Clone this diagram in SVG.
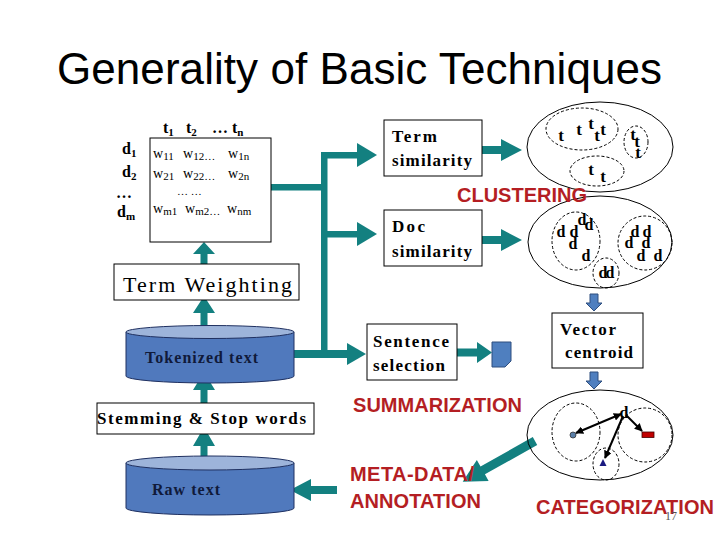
<svg xmlns="http://www.w3.org/2000/svg" width="720" height="540" viewBox="0 0 720 540">
<defs>
<style>
.box{fill:#fff;stroke:#000;stroke-width:1}
.ser{font-family:"Liberation Serif","Times New Roman",serif;fill:#000}
.b{font-weight:bold}
.red{font-family:"Liberation Sans",Arial,sans-serif;font-weight:bold;fill:#b41e23;font-size:20px}
.teal{fill:#138080;stroke:none}
.cylb{fill:#5079bd;stroke:#1f3060;stroke-width:1}
.cylt{fill:#9db4da;stroke:#1f3060;stroke-width:1}
.ell{fill:none;stroke:#000;stroke-width:1}
.dash{fill:none;stroke:#000;stroke-width:1;stroke-dasharray:3,2}
.blu{fill:#4f7fbf;stroke:#2f4f7f;stroke-width:1}
.lt{font-family:"Liberation Serif","Times New Roman",serif;font-weight:bold;font-size:17px;text-anchor:middle;fill:#000}
.ln{stroke:#000;stroke-width:2;fill:none}
</style>
<marker id="ah" viewBox="0 0 10 10" refX="9" refY="5" markerWidth="4" markerHeight="4" orient="auto-start-reverse">
<path d="M0,0 L10,5 L0,10 Z" fill="#000"/>
</marker>
</defs>
<rect width="720" height="540" fill="#fff"/>
<text x="57" y="84" font-family="Liberation Sans, Arial, sans-serif" font-size="44" textLength="605" fill="#000">Generality of Basic Techniques</text>

<g id="connectors">
<path class="teal" d="M200.5,264 V254 H193 L204,242 L215,254 H207.5 V264 Z"/>
<path class="teal" d="M200.5,330 V313 H193 L204,296 L215,313 H207.5 V330 Z"/>
<path class="teal" d="M200.5,407 V390 H193 L204,372 L215,390 H207.5 V407 Z"/>
<path class="teal" d="M200.5,462 V446 H193 L204,427 L215,446 H207.5 V462 Z"/>
<path class="teal" d="M337,486 H311 V479 L290,490 L311,501 V494 H337 Z"/>
<rect class="teal" x="294" y="350" width="54" height="8"/>
<path class="teal" d="M347,343 L366,354 L347,365 Z"/>
<rect class="teal" x="321" y="152" width="6.5" height="206"/>
<rect class="teal" x="271" y="184" width="54" height="6.5"/>
<rect class="teal" x="321" y="152" width="37" height="6.5"/>
<path class="teal" d="M357,143 L377,155 L357,167 Z"/>
<rect class="teal" x="321" y="231" width="37" height="6.5"/>
<path class="teal" d="M357,222 L377,234 L357,246 Z"/>
<path class="teal" d="M482,146 H501 V139 L522,150 L501,161 V154 H482 Z"/>
<path class="teal" d="M482,236 H501 V229 L522,240 L501,251 V244 H482 Z"/>
<path class="teal" d="M457,348.5 H477 V342 L492,352.5 L477,363 V356.5 H457 Z"/>
<g transform="translate(535,441) rotate(150.6)">
<path class="teal" d="M0,-4.5 H60 V-12 L83,0 L60,12 V4.5 H0 Z"/>
</g>
<path class="blu" d="M590,294 H598 V303 H602 L594,311 L586,303 H590 Z"/>
<path class="blu" d="M590,372 H598 V381 H602 L594,389 L586,381 H590 Z"/>
</g>

<g id="matrix">
<rect class="box" x="150" y="138" width="121" height="104"/>
<text class="ser b" font-size="16" y="133"><tspan x="163">t</tspan><tspan font-size="11" dy="3">1</tspan><tspan dy="-3" x="186">t</tspan><tspan font-size="11" dy="3">2</tspan><tspan dy="-3" x="212">… t</tspan><tspan font-size="11" dy="3">n</tspan></text>
<text class="ser b" font-size="16" x="122" y="154">d<tspan font-size="11" dy="3">1</tspan></text>
<text class="ser b" font-size="16" x="122" y="177">d<tspan font-size="11" dy="3">2</tspan></text>
<text class="ser b" font-size="16" x="116" y="198">…</text>
<text class="ser b" font-size="16" x="117" y="217">d<tspan font-size="11" dy="3">m</tspan></text>
<g class="ser" font-size="14">
<text y="158"><tspan x="153">w</tspan><tspan font-size="11" dy="2">11</tspan><tspan dy="-2" x="183">w</tspan><tspan font-size="11" dy="2">12…</tspan><tspan dy="-2" x="228">w</tspan><tspan font-size="11" dy="2">1n</tspan></text>
<text y="178"><tspan x="153">w</tspan><tspan font-size="11" dy="2">21</tspan><tspan dy="-2" x="183">w</tspan><tspan font-size="11" dy="2">22…</tspan><tspan dy="-2" x="228">w</tspan><tspan font-size="11" dy="2">2n</tspan></text>
<text x="177" y="195" font-size="11">… …</text>
<text y="213"><tspan x="153">w</tspan><tspan font-size="11" dy="2">m1</tspan><tspan dy="-2" x="185">w</tspan><tspan font-size="11" dy="2">m2…</tspan><tspan dy="-2" x="227">w</tspan><tspan font-size="11" dy="2">nm</tspan></text>
</g>
</g>

<g id="term-weighting">
<rect class="box" x="114" y="264" width="185" height="36"/>
<text class="ser" font-size="22" x="123" y="292" textLength="169">Term Weighting</text>
</g>

<g id="tokenized">
<path class="cylb" d="M126,332 V376 A84,7 0 0 0 294,376 V332 Z"/>
<ellipse class="cylt" cx="210" cy="332" rx="84" ry="6.5"/>
<text class="ser b" font-size="16" x="145" y="363" textLength="113" style="fill:#101a3a">Tokenized text</text>
</g>

<g id="stemming">
<rect class="box" x="97" y="403" width="217" height="31"/>
<text class="ser b" font-size="17" x="97" y="424" textLength="209">Stemming &amp; Stop words</text>
</g>

<g id="raw-text">
<path class="cylb" d="M126,463 V508 A84,7 0 0 0 294,508 V463 Z"/>
<ellipse class="cylt" cx="210" cy="463" rx="84" ry="7"/>
<text class="ser b" font-size="16" x="152" y="495" textLength="68" style="fill:#101a3a">Raw text</text>
</g>

<g id="term-similarity">
<rect class="box" x="384" y="120" width="98" height="56"/>
<text class="ser b" font-size="17" x="392" y="142" textLength="45">Term</text>
<text class="ser b" font-size="17" x="392" y="166" textLength="80">similarity</text>
</g>

<g id="doc-similarity">
<rect class="box" x="384" y="210" width="98" height="56"/>
<text class="ser b" font-size="17" x="392" y="232" textLength="33">Doc</text>
<text class="ser b" font-size="17" x="392" y="257" textLength="80">similarity</text>
</g>

<g id="sentence-selection">
<rect class="box" x="367" y="324" width="90" height="56"/>
<text class="ser b" font-size="17" x="373" y="347" textLength="76">Sentence</text>
<text class="ser b" font-size="17" x="373" y="371" textLength="72">selection</text>
</g>

<g id="summary-doc">
<path class="blu" d="M492,342 H511 V361 L505,367 H492 Z"/>
</g>

<g id="term-clusters">
<ellipse class="ell" cx="600" cy="147" rx="73" ry="45"/>
<ellipse class="dash" cx="582" cy="129" rx="36" ry="21"/>
<ellipse class="dash" cx="636" cy="142" rx="12" ry="16"/>
<ellipse class="dash" cx="597" cy="171" rx="27" ry="15"/>
<text class="lt" x="561" y="141">t</text>
<text class="lt" x="579" y="135">t</text>
<text class="lt" x="591" y="129">t</text>
<text class="lt" x="597" y="141">t</text>
<text class="lt" x="603" y="135">t</text>
<text class="lt" x="633" y="140">t</text>
<text class="lt" x="637" y="147">t</text>
<text class="lt" x="638" y="158">t</text>
<text class="lt" x="591" y="175">t</text>
<text class="lt" x="603" y="182">t</text>
</g>

<g id="doc-clusters">
<ellipse class="ell" cx="600" cy="242" rx="72" ry="46"/>
<ellipse class="dash" cx="576" cy="241" rx="24" ry="29"/>
<ellipse class="dash" cx="645" cy="243" rx="27" ry="27"/>
<ellipse class="dash" cx="606" cy="273" rx="13" ry="15"/>
<text class="lt" style="font-size:16px" x="561" y="237">d</text>
<text class="lt" style="font-size:16px" x="574" y="237">d</text>
<text class="lt" style="font-size:16px" x="582" y="225">d</text>
<text class="lt" style="font-size:16px" x="589" y="230">d</text>
<text class="lt" style="font-size:16px" x="573" y="249">d</text>
<text class="lt" style="font-size:16px" x="586" y="261">d</text>
<text class="lt" style="font-size:16px" x="635" y="237">d</text>
<text class="lt" style="font-size:16px" x="647" y="237">d</text>
<text class="lt" style="font-size:16px" x="629" y="248">d</text>
<text class="lt" style="font-size:16px" x="646" y="248">d</text>
<text class="lt" style="font-size:16px" x="641" y="261">d</text>
<text class="lt" style="font-size:16px" x="658" y="261">d</text>
<text class="lt" style="font-size:16px" x="603" y="278">d</text>
<text class="lt" style="font-size:16px" x="610" y="278">d</text>
</g>

<g id="vector-centroid">
<rect class="box" x="552" y="313" width="91" height="55"/>
<text class="ser b" font-size="17" x="560" y="335" textLength="56">Vector</text>
<text class="ser b" font-size="17" x="565" y="358" textLength="68">centroid</text>
</g>

<g id="categorization">
<ellipse class="ell" cx="600" cy="435" rx="73" ry="45"/>
<ellipse class="dash" cx="576" cy="432" rx="24" ry="29"/>
<ellipse class="dash" cx="645" cy="435" rx="27" ry="27"/>
<ellipse class="dash" cx="606" cy="464" rx="13" ry="16"/>
<text class="lt" style="font-size:16px" x="624" y="418">d</text>
<line class="ln" x1="576" y1="433" x2="621" y2="414" marker-start="url(#ah)" marker-end="url(#ah)"/>
<line class="ln" x1="626" y1="415" x2="642" y2="431" marker-end="url(#ah)"/>
<line class="ln" x1="623" y1="416" x2="605" y2="458" marker-end="url(#ah)"/>
<circle cx="573" cy="435" r="3" fill="#5a7fa8" stroke="#333" stroke-width="0.8"/>
<rect x="642" y="432" width="12" height="5.5" fill="#c00000" stroke="#400" stroke-width="0.8"/>
<path d="M599.5,466 L603,459 L606.5,466 Z" fill="#1a1a80"/>
</g>

<g id="labels">
<text class="red" x="457" y="202" textLength="130">CLUSTERING</text>
<text class="red" x="353" y="412" textLength="169">SUMMARIZATION</text>
<text class="red" x="350" y="481" textLength="124">META-DATA/</text>
<text class="red" x="350" y="508" textLength="131">ANNOTATION</text>
<text class="red" x="536" y="514" textLength="178">CATEGORIZATION</text>
<text x="665" y="520" font-family="Liberation Serif, serif" font-size="12" fill="#555">17</text>
</g>
</svg>
